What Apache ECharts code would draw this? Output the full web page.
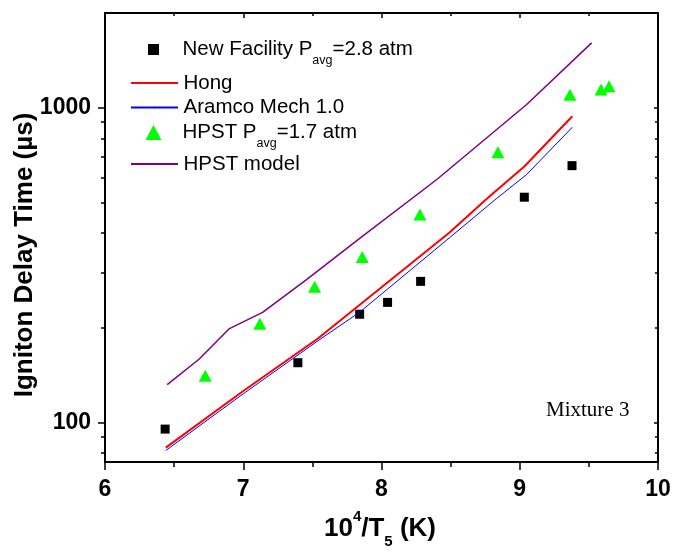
<!DOCTYPE html>
<html><head><meta charset="utf-8">
<script src="https://cdn.jsdelivr.net/npm/echarts@6/dist/echarts.min.js"></script>
<style>html,body{margin:0;padding:0;background:#fff}#c{width:675px;height:553px}</style>
</head><body><div id="c"></div>
<script>
// ---- data ----
const newFacX = [6.435, 7.395, 7.842, 8.044, 8.283, 9.033, 9.378];
const newFacY = [95.4, 155, 221, 241, 281, 520, 655];
const hpstX = [6.725, 7.12, 7.516, 7.861, 8.278, 8.842, 9.363, 9.588, 9.646];
const hpstY = [141, 206, 270, 336, 458, 722, 1101, 1143, 1171];
const hongX = [6.44, 7.0, 7.54, 8.49, 8.77, 9.035, 9.38];
const hongY = [83.3, 126, 185, 401, 518, 652, 940];
const aramcoX = [6.44, 7.0, 7.54, 7.84, 8.49, 8.83, 9.05, 9.38];
const aramcoY = [81.6, 123.5, 182, 224, 386, 514, 614, 867];
const hpstModelX = [6.45, 6.68, 6.90, 7.14, 7.46, 7.84, 8.40, 9.05, 9.52];
const hpstModelY = [132, 159, 199, 224, 285, 384, 592, 1024, 1608];
const seriesNames = ['New Facility', 'Hong', 'Aramco Mech 1.0', 'HPST', 'HPST model'];
const legendLabels = ['New Facility P{sub|avg}=2.8 atm', 'Hong', 'Aramco Mech 1.0', 'HPST P{sub|avg}=1.7 atm', 'HPST model'];
const yMajorTicks = [100, 1000];
const yMinorTicks = [80, 90, 200, 300, 400, 500, 600, 700, 800, 900];
const xTitle = '10{sup|4}/T{sub|5} (K)';
const yTitle = 'Igniton Delay Time (µs)';
const noteText = 'Mixture 3';

const zip = (xs, ys) => xs.map((x, i) => [x, ys[i]]);
const FONT = 'Liberation Sans';
const chart = echarts.init(document.getElementById('c'), null, {renderer: 'canvas'});

const legendCenters = [49.5, 83, 107.5, 132.5, 164];
const legendItemW = [11, 47, 47, 16, 47];
const legendItemH = [11, 2, 2, 15, 2];
const TEXT_X = 182.5, ICON_CX = 153.5;
const legends = seriesNames.map((n, i) => {
  const left = ICON_CX - legendItemW[i] / 2;
  const padL = TEXT_X - (left + legendItemW[i] + 5);
  return {
    data: [n], left: left, top: legendCenters[i] - 18, padding: 0,
    itemWidth: legendItemW[i], itemHeight: legendItemH[i],
    selectedMode: false, orient: 'vertical',
    formatter: () => legendLabels[i],
    textStyle: {fontSize: 20.5, fontFamily: FONT, color: '#000', lineHeight: 36, padding: [0, 0, 0, padL],
      rich: {sub: {fontSize: 12.5, lineHeight: 12, verticalAlign: 'bottom', fontFamily: FONT, color: '#000'}}}
  };
});

const axisLineStyle = {color: '#000', width: 2};
function yAx(pos, ticks, len, inside, labels) {
  return {
    type: 'log', logBase: 10, min: 75, max: 2000, position: pos,
    axisLine: {show: true, lineStyle: axisLineStyle},
    axisTick: {show: true, customValues: ticks, length: len, inside: inside, lineStyle: {color: '#000', width: 1.5}},
    axisLabel: labels ? {show: true, customValues: ticks, margin: 14, fontSize: 23, fontWeight: 'bold', fontFamily: FONT, color: '#000',
      formatter: v => String(Math.round(v))} : {show: false},
    splitLine: {show: false}, minorTick: {show: false}, minorSplitLine: {show: false}
  };
}
function xAx(pos, len, mlen, inside, labels) {
  return {
    type: 'value', min: 6, max: 10, interval: 1, position: pos,
    axisLine: {show: true, onZero: false, lineStyle: axisLineStyle},
    axisTick: {show: true, length: len, inside: inside, lineStyle: {color: '#000', width: 1.5}},
    minorTick: {show: true, splitNumber: 2, length: mlen, lineStyle: {color: '#000', width: 1.5}},
    axisLabel: labels ? {show: true, margin: 16, fontSize: 23, fontWeight: 'bold', fontFamily: FONT, color: '#000'} : {show: false},
    splitLine: {show: false}
  };
}

chart.setOption({
  animation: false,
  backgroundColor: '#fff',
  grid: {left: 105, right: 17, top: 13, bottom: 91, containLabel: false},
  legend: legends,
  xAxis: [xAx('bottom', 8, 5, false, true), xAx('top', 5, 3, true, false)],
  yAxis: [
    yAx('left', yMajorTicks, 7, false, true),
    yAx('left', yMinorTicks, 4, false, false),
    yAx('right', yMajorTicks, 4, true, false),
    yAx('right', yMinorTicks, 3, true, false)
  ],
  series: [
    {name: seriesNames[0], type: 'scatter', data: zip(newFacX, newFacY), symbol: 'rect', symbolSize: 9,
      itemStyle: {color: '#000', opacity: 1}, z: 2},
    {name: seriesNames[3], type: 'scatter', data: zip(hpstX, hpstY), symbol: 'triangle', symbolSize: [13, 12],
      itemStyle: {color: '#00ff00', opacity: 1}, z: 2},
    {name: seriesNames[1], type: 'line', data: zip(hongX, hongY), symbol: 'none', showSymbol: false,
      lineStyle: {color: '#ff0000', width: 2}, itemStyle: {color: '#ff0000'}, z: 3},
    {name: seriesNames[2], type: 'line', data: zip(aramcoX, aramcoY), symbol: 'none', showSymbol: false,
      lineStyle: {color: '#0000ff', width: 1}, itemStyle: {color: '#0000ff'}, z: 3},
    {name: seriesNames[4], type: 'line', data: zip(hpstModelX, hpstModelY), symbol: 'none', showSymbol: false,
      lineStyle: {color: '#800080', width: 1.5}, itemStyle: {color: '#800080'}, z: 3}
  ],
  graphic: [
    {type: 'text', x: 25, y: 255, rotation: Math.PI / 2,
      style: {text: yTitle, fontSize: 26, fontWeight: 'bold', fontFamily: FONT, fill: '#000', align: 'center', verticalAlign: 'middle'}},
    {type: 'text', x: 380, y: 529,
      style: {text: xTitle, fontSize: 26, fontWeight: 'bold', fontFamily: FONT, fill: '#000', align: 'center', verticalAlign: 'middle', lineHeight: 40,
        rich: {sup: {fontSize: 15, fontWeight: 'bold', fontFamily: FONT, lineHeight: 26, verticalAlign: 'top'},
               sub: {fontSize: 15, fontWeight: 'bold', fontFamily: FONT, lineHeight: 10, verticalAlign: 'bottom'}}}},
    {type: 'text', x: 546, y: 410,
      style: {text: noteText, fontSize: 21, fontFamily: 'Liberation Serif', fill: '#000', align: 'left', verticalAlign: 'middle'}}
  ]
});
</script></body></html>
